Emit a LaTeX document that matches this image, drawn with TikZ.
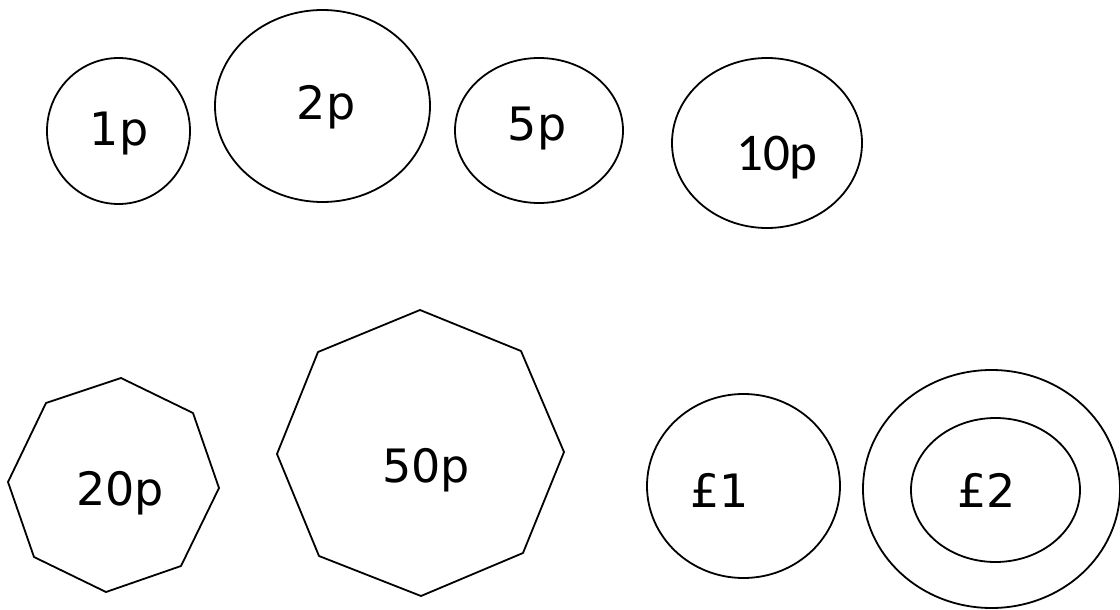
\documentclass[tikz,border=0pt]{standalone}
\usepackage{fontspec}
\setmainfont{DejaVu Sans}
\newfontfamily\tenfont{Carlito}
\begin{document}
\begin{tikzpicture}[x=1pt,y=-1pt,
  coin/.style={draw=black,line width=1.8pt,line join=round},
  lbl/.style={font=\fontsize{46}{50}\selectfont,inner sep=0pt,anchor=base}]
\useasboundingbox (0,0) rectangle (1120,610);
% top row
\draw[coin] (118.5,131) ellipse [x radius=71.5, y radius=73];
\draw[coin] (322.5,106) ellipse [x radius=107.5, y radius=96];
\draw[coin] (539,130.5) ellipse [x radius=84, y radius=72.5];
\draw[coin] (767,143) ellipse [x radius=95, y radius=85];
\node[lbl] (p1) at (119,145) {1p};
\node[lbl] (p2) at (326,120) {2p};
\node[lbl] (p5) at (537,140) {5p};
\node[lbl,font=\tenfont\fontsize{53}{56}\selectfont] (p10) at (777,170) {10p};
% 20p
\draw[coin] (121,378) -- (193,413) -- (219,488) -- (181,566) -- (106,592) -- (34,557) -- (8,482) -- (46,403) -- cycle;
\node[lbl] (p20) at (120,505) {20p};
% 50p
\draw[coin] (420,310) -- (521,351) -- (564,452) -- (523,553) -- (421,596) -- (319,556) -- (277,454) -- (318,352) -- cycle;
\node[lbl] (p50) at (426,482) {50p};
% pound coins
\draw[coin] (743.5,486) ellipse [x radius=96.5, y radius=92];
\node[lbl] (l1) at (720,507) {£1};
\draw[coin] (991.5,489) ellipse [x radius=128.5, y radius=119];
\draw[coin] (995.5,490) ellipse [x radius=84.5, y radius=72];
\node[lbl] (l2) at (987,507) {£2};
\end{tikzpicture}
\end{document}
